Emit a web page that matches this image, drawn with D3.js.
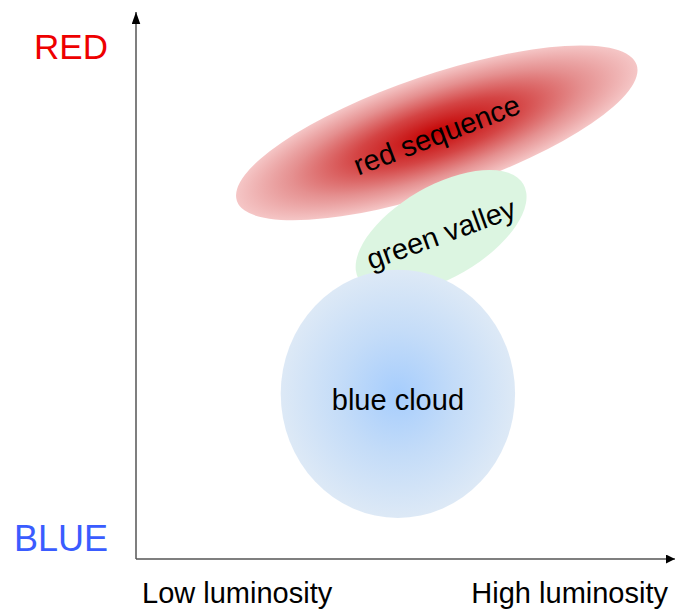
<!DOCTYPE html>
<html><head><meta charset="utf-8">
<script src="https://cdn.jsdelivr.net/npm/d3@7"></script>
<style>body{margin:0;background:#fff}svg{display:block}text{font-family:"Liberation Sans",Arial,sans-serif}</style>
</head><body>
<script>
// Data (abstract units: luminosity 0-100, colour 0-100)
const regions = ["red sequence", "green valley", "blue cloud"];
const centerLum = [55.7, 56.5, 48.5];
const centerColour = [77.9, 59.8, 30.2];
const spreadMajor = [39.1, 17.6, 21.7];
const spreadMinor = [10.6, 8.4, 22.7];
const tilt = [-18.8, -30, 0];
const labelTilt = [-21, -20, 0];
const xTickLabels = ["Low luminosity", "High luminosity"];
const yTickLabels = ["BLUE", "RED"];

const W = 676, H = 610;
const svg = d3.select("body").append("svg").attr("width", W).attr("height", H);
const x = d3.scaleLinear().domain([0, 100]).range([136, 676]);
const y = d3.scaleLinear().domain([0, 100]).range([559, 12]);

const defs = svg.append("defs");
const gradStops = [
  [[0, "#c40000"], [0.4, "#d44444"], [0.72, "#e59090"], [1, "#f5c6c6"]],
  [[0, "#dcf5e1"], [1, "#dcf5e1"]],
  [[0, "#a6cdfd"], [0.5, "#c4dcf8"], [1, "#dde9f6"]]
];
gradStops.forEach((st, i) => {
  const g = defs.append("radialGradient").attr("id", "g" + i);
  st.forEach(s => g.append("stop").attr("offset", s[0]).attr("stop-color", s[1]));
});
const mk = defs.append("marker").attr("id", "arr").attr("viewBox", "0 0 10 10")
  .attr("refX", 10).attr("refY", 5).attr("markerWidth", 9).attr("markerHeight", 9)
  .attr("markerUnits", "userSpaceOnUse").attr("orient", "auto");
mk.append("path").attr("d", "M0,0 L10,5 L0,10 Z").attr("fill", "#000");
const mk2 = defs.append("marker").attr("id", "arrY").attr("viewBox", "0 0 14 10")
  .attr("refX", 14).attr("refY", 5).attr("markerWidth", 12).attr("markerHeight", 9)
  .attr("markerUnits", "userSpaceOnUse").attr("orient", "auto");
mk2.append("path").attr("d", "M0,0 L14,5 L0,10 Z").attr("fill", "#000");

// axes
svg.append("line").attr("x1", x(0)).attr("y1", y(0)).attr("x2", x(0)).attr("y2", y(100))
  .attr("stroke", "#555").attr("stroke-width", 1.5).attr("marker-end", "url(#arrY)");
svg.append("line").attr("x1", x(0)).attr("y1", y(0)).attr("x2", x(100) - 1).attr("y2", y(0))
  .attr("stroke", "#555").attr("stroke-width", 1.5).attr("marker-end", "url(#arr)");

// regions
regions.forEach((r, i) => {
  const g = svg.append("g").attr("transform", `translate(${x(centerLum[i])},${y(centerColour[i])})`);
  g.append("ellipse").attr("transform", `rotate(${tilt[i]})`)
    .attr("rx", x(spreadMajor[i]) - x(0)).attr("ry", y(0) - y(spreadMinor[i]))
    .attr("fill", `url(#g${i})`);
});
regions.forEach((r, i) => {
  svg.append("text")
    .attr("transform", `translate(${x(centerLum[i])},${y(centerColour[i]) + (i === 2 ? 6 : 2)}) rotate(${labelTilt[i]})`)
    .attr("text-anchor", "middle").attr("dominant-baseline", "central")
    .attr("font-size", 29).attr("fill", "#000").text(r);
});

// axis labels
svg.append("text").attr("x", 142).attr("y", 603).attr("font-size", 29).text(xTickLabels[0]);
svg.append("text").attr("x", 668).attr("y", 603).attr("text-anchor", "end").attr("font-size", 29).text(xTickLabels[1]);
svg.append("text").attr("x", 108).attr("y", 551).attr("text-anchor", "end").attr("font-size", 36).attr("fill", "#3a5cff").text(yTickLabels[0]);
svg.append("text").attr("x", 108).attr("y", 59).attr("text-anchor", "end").attr("font-size", 35).attr("fill", "#ee0000").text(yTickLabels[1]);
</script>
</body></html>
